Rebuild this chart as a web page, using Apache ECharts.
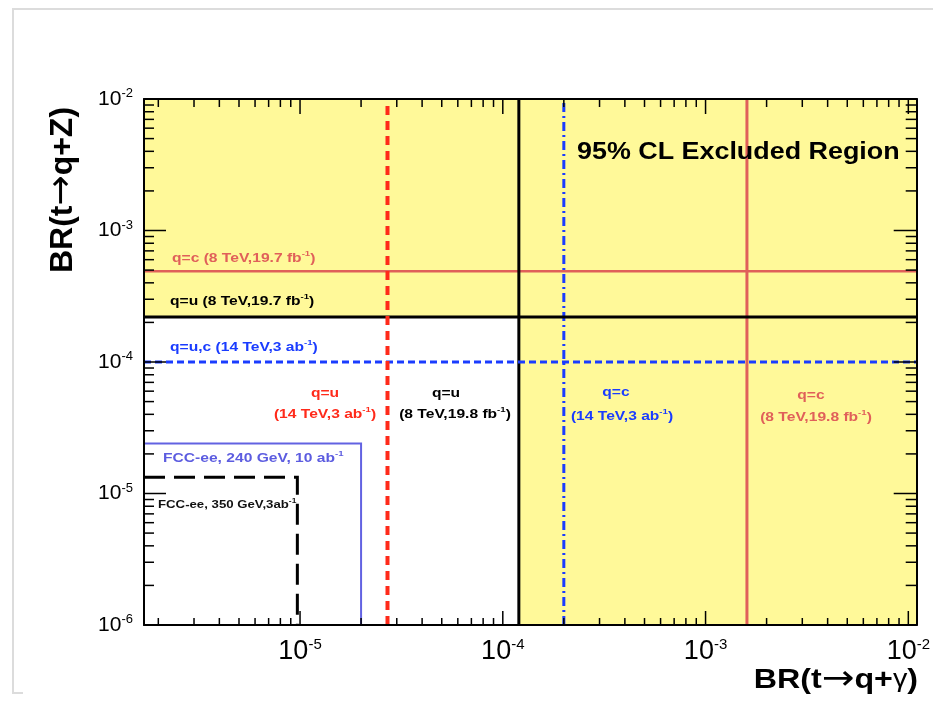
<!DOCTYPE html>
<html><head><meta charset="utf-8">
<script src="https://cdn.jsdelivr.net/npm/echarts@6/dist/echarts.min.js"></script>
<style>html,body{margin:0;padding:0;background:#fff}#c{width:933px;height:705px}</style>
</head><body><div id="c"></div>
<script>
const FONT = '"Liberation Sans", Arial, Helvetica, sans-serif';
const ARROW_FONT = '"DejaVu Sans", sans-serif';

// axis ranges and tick labels (decade exponents)
const xRange = [1.7e-6, 1.1e-2];
const yRange = [1e-6, 1e-2];
const xTickExponents = [-5, -4, -3, -2];
const yTickExponents = [-6, -5, -4, -3, -2];
const minorMultipliers = [2, 3, 4, 5, 6, 7, 8, 9];

// 95% CL upper limits: [BR(t->q+gamma), BR(t->q+Z)]
const cms8TeV_u = [1.2e-4, 2.2e-4];
const cms8TeV_c = [1.6e-3, 4.9e-4];
const hl14TeV_u = [2.7e-5, 1.0e-4];
const hl14TeV_c = [2.0e-4, 1.0e-4];
const fcc240 = [2.0e-5, 2.4e-5];
const fcc350 = [9.7e-6, 1.33e-5];

const chart = echarts.init(document.getElementById('c'), null, {renderer: 'canvas'});

function minorValues(range) {
  const out = [];
  for (let e = -7; e <= -1; e++) {
    minorMultipliers.forEach(m => {
      const v = m * Math.pow(10, e);
      if (v > range[0] && v < range[1]) out.push(v);
    });
  }
  return out;
}
const xMinor = minorValues(xRange);
const yMinor = minorValues(yRange);
const xMajor = xTickExponents.map(e => Math.pow(10, e));
const yMajor = yTickExponents.map(e => Math.pow(10, e));

function fmt(list) {
  return function (v) {
    const l = Math.log10(v), e = Math.round(l);
    if (Math.abs(l - e) > 1e-6 || list.indexOf(e) < 0) return '';
    return '{b|10}{s|' + e + '}';
  };
}

function lineSeries(data, color, width, type) {
  return {
    type: 'line', data: data, symbol: 'none', showSymbol: false, silent: true,
    animation: false, z: 5, clip: false,
    lineStyle: {color: color, width: width, type: type, cap: 'butt', join: 'miter'}
  };
}
const hLine = v => [[xRange[0], v], [xRange[1], v]];
const vLine = v => [[v, yRange[0]], [v, yRange[1]]];

const baseAxis = {
  type: 'log', logBase: 10, z: 10,
  axisLine: {show: true, onZero: false, lineStyle: {color: '#000', width: 2}},
  axisTick: {show: false},
  splitLine: {show: false}, minorTick: {show: false}, minorSplitLine: {show: false}
};

const series = [
  { // excluded (yellow) region, outside the q=u 8 TeV limits
    type: 'custom', z: 1, silent: true, animation: false,
    data: [[xRange[0], yRange[0]]],
    renderItem: function (params, api) {
      const corners = [
        [xRange[0], yRange[1]], [xRange[1], yRange[1]], [xRange[1], yRange[0]],
        [cms8TeV_u[0], yRange[0]], [cms8TeV_u[0], cms8TeV_u[1]], [xRange[0], cms8TeV_u[1]]
      ];
      return {type: 'polygon', shape: {points: corners.map(p => api.coord(p))},
              style: {fill: '#fff999'}};
    }
  },
  lineSeries(hLine(cms8TeV_c[1]), '#e0605a', 2.5, 'solid'),
  lineSeries(vLine(cms8TeV_c[0]), '#e0605a', 3, 'solid'),
  lineSeries(vLine(hl14TeV_c[0]), '#1a3cff', 3, [9, 4, 2, 4]),
  lineSeries([[xRange[0], fcc240[1]], [fcc240[0], fcc240[1]], [fcc240[0], yRange[0]]], '#6262e2', 2, 'solid'),
  lineSeries([[xRange[0], fcc350[1]], [fcc350[0], fcc350[1]], [fcc350[0], yRange[0]]], '#000', 3, [21, 9]),
  lineSeries(hLine(cms8TeV_u[1]), '#000', 3, 'solid'),
  lineSeries(vLine(cms8TeV_u[0]), '#000', 3, 'solid'),
  lineSeries(hLine(hl14TeV_u[1]), '#1a3cff', 3, [7, 4]),
  lineSeries(vLine(hl14TeV_u[0]), '#ff2a1a', 4, [9, 6]),
  { // major and minor ticks on all four sides of the frame
    type: 'custom', z: 20, silent: true, animation: false,
    data: [[xRange[0], yRange[0]]],
    renderItem: function (params, api) {
      const cs = params.coordSys;
      const ch = [];
      const seg = (x1, y1, x2, y2) => ch.push({type: 'line', shape: {x1, y1, x2, y2},
        style: {stroke: '#000', lineWidth: 1.5}});
      const xt = (vals, len) => vals.forEach(v => {
        const px = api.coord([v, yRange[0]])[0];
        seg(px, cs.y + cs.height, px, cs.y + cs.height - len);
        seg(px, cs.y, px, cs.y + len + 1);
      });
      const yt = (vals, len) => vals.forEach(v => {
        const py = api.coord([xRange[0], v])[1];
        seg(cs.x, py, cs.x + len, py);
        seg(cs.x + cs.width, py, cs.x + cs.width - len - 1, py);
      });
      xt(xMinor, 7); xt(xMajor, 14);
      yt(yMinor, 10); yt(yMajor, 22);
      return {type: 'group', children: ch};
    }
  }
];

function txt(x, y, text, color, size, align, scaleX) {
  const sup = Math.round(size * 0.62);
  return {
    type: 'text', x: x, y: y, scaleX: scaleX, z: 30, silent: true,
    style: {
      text: text, fill: color, font: 'bold ' + size + 'px ' + FONT,
      fontSize: size, fontWeight: 'bold', fontFamily: FONT,
      align: align, textAlign: align, verticalAlign: 'middle', textVerticalAlign: 'middle',
      lineHeight: size + 3,
      rich: {
        s: {fontSize: sup, fontWeight: 'bold', fontFamily: FONT, fill: color, lineHeight: sup, verticalAlign: 'top'}
      }
    }
  };
}

const red = '#ff2a1a', salmon = '#e0605a', blue = '#1a3cff', violet = '#5c5ce0';
const graphic = [
  {type: 'line', shape: {x1: 13, y1: 9, x2: 13, y2: 693}, style: {stroke: '#dcdcdc', lineWidth: 2}, silent: true},
  {type: 'line', shape: {x1: 12, y1: 9, x2: 933, y2: 9}, style: {stroke: '#dcdcdc', lineWidth: 2}, silent: true},
  {type: 'line', shape: {x1: 12, y1: 693, x2: 23, y2: 693}, style: {stroke: '#dcdcdc', lineWidth: 2}, silent: true},
  txt(577, 152, '95% CL Excluded Region', '#000', 24, 'left', 1.12),
  txt(172, 258, 'q=c (8 TeV,19.7 fb{s|-1})', salmon, 13, 'left', 1.2),
  txt(170, 301, 'q=u (8 TeV,19.7 fb{s|-1})', '#000', 13, 'left', 1.2),
  txt(170, 347, 'q=u,c (14 TeV,3 ab{s|-1})', blue, 13, 'left', 1.2),
  txt(325, 393, 'q=u', red, 13, 'center', 1.2),
  txt(325, 414, '(14 TeV,3 ab{s|-1})', red, 13, 'center', 1.2),
  txt(446, 393, 'q=u', '#000', 13, 'center', 1.2),
  txt(455, 414, '(8 TeV,19.8 fb{s|-1})', '#000', 13, 'center', 1.2),
  txt(616, 392, 'q=c', blue, 13, 'center', 1.2),
  txt(622, 416, '(14 TeV,3 ab{s|-1})', blue, 13, 'center', 1.2),
  txt(811, 395, 'q=c', salmon, 13, 'center', 1.2),
  txt(816, 417, '(8 TeV,19.8 fb{s|-1})', salmon, 13, 'center', 1.2),
  txt(163, 458, 'FCC-ee, 240 GeV, 10 ab{s|-1}', violet, 13, 'left', 1.2),
  txt(158, 505, 'FCC-ee, 350 GeV,3ab{s|-1}', '#111', 11, 'left', 1.2),
  { // x axis title
    type: 'text', x: 918, y: 680, scaleX: 1.15, z: 30, silent: true,
    style: {
      text: '{b|BR(t}{a|\u2192}{b|q+}{g|\u03b3}{b|)}', fill: '#000', font: 'bold 28px ' + FONT,
      align: 'right', textAlign: 'right', verticalAlign: 'middle', textVerticalAlign: 'middle',
      rich: {
        b: {fontSize: 28, fontWeight: 'bold', fontFamily: FONT, fill: '#000', lineHeight: 32},
        a: {fontSize: 34, fontWeight: 'normal', fontFamily: ARROW_FONT, fill: '#000', lineHeight: 32},
        g: {fontSize: 25, fontWeight: 'normal', fontFamily: FONT, fill: '#000', lineHeight: 32}
      }
    }
  },
  { // y axis title
    type: 'text', x: 63, y: 190, rotation: Math.PI / 2, z: 30, silent: true,
    style: {
      text: '{b|BR(t}{a|\u2192}{b|q+Z)}', fill: '#000', font: 'bold 32px ' + FONT,
      align: 'center', textAlign: 'center', verticalAlign: 'middle', textVerticalAlign: 'middle',
      rich: {
        b: {fontSize: 32, fontWeight: 'bold', fontFamily: FONT, fill: '#000', lineHeight: 36},
        a: {fontSize: 36, fontWeight: 'normal', fontFamily: ARROW_FONT, fill: '#000', lineHeight: 36}
      }
    }
  }
];

const option = {
  backgroundColor: '#fff',
  animation: false,
  grid: {left: 144, right: 16, top: 99, bottom: 80, containLabel: false},
  xAxis: [
    Object.assign({}, baseAxis, {
      position: 'bottom', min: xRange[0], max: xRange[1],
      axisLabel: {show: true, margin: 12, formatter: fmt(xTickExponents),
        rich: {
          b: {fontSize: 27, fontFamily: FONT, color: '#000', lineHeight: 30},
          s: {fontSize: 15, fontFamily: FONT, color: '#000', lineHeight: 15, verticalAlign: 'top'}
        }}
    }),
    Object.assign({}, baseAxis, {
      position: 'top', min: xRange[0], max: xRange[1],
      axisLabel: {show: false}
    })
  ],
  yAxis: [
    Object.assign({}, baseAxis, {
      position: 'left', min: yRange[0], max: yRange[1],
      axisLabel: {show: true, margin: 11, formatter: fmt(yTickExponents),
        rich: {
          b: {fontSize: 21, fontFamily: FONT, color: '#000', lineHeight: 24},
          s: {fontSize: 13, fontFamily: FONT, color: '#000', lineHeight: 13, verticalAlign: 'top'}
        }}
    }),
    Object.assign({}, baseAxis, {
      position: 'right', min: yRange[0], max: yRange[1],
      axisLabel: {show: false}
    })
  ],
  series: series,
  graphic: graphic
};
chart.setOption(option);
</script>
</body></html>
